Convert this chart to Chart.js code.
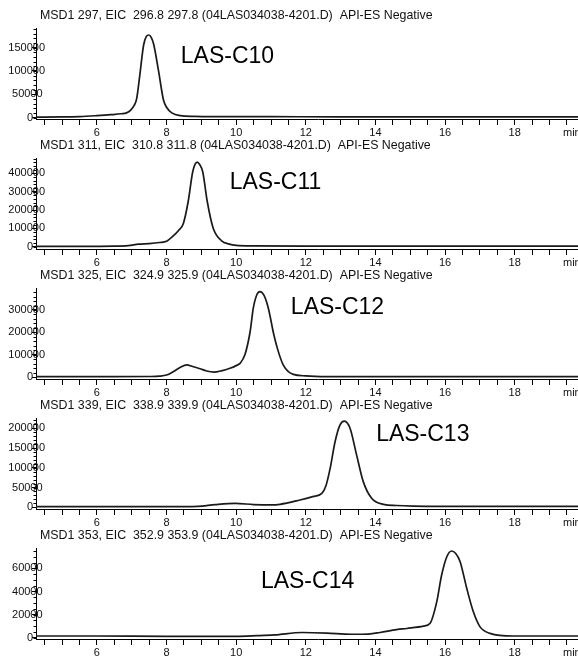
<!DOCTYPE html>
<html>
<head>
<meta charset="utf-8">
<script src="https://cdn.jsdelivr.net/npm/chart.js@4.4.0/dist/chart.umd.min.js"></script>
<style>
  html, body { margin: 0; padding: 0; background: #fff; }
  body { width: 578px; height: 659px; overflow: hidden; position: relative; }
  .panel { position: absolute; left: 0; }
</style>
</head>
<body>
<canvas id="p0" class="panel" width="600" height="145" style="top:0px"></canvas>
<canvas id="p1" class="panel" width="600" height="145" style="top:130px"></canvas>
<canvas id="p2" class="panel" width="600" height="145" style="top:260px"></canvas>
<canvas id="p3" class="panel" width="600" height="145" style="top:390px"></canvas>
<canvas id="p4" class="panel" width="600" height="145" style="top:520px"></canvas>
<script>
// Header lines of the five extracted ion chromatograms
const titles = [
    'MSD1 297, EIC  296.8 297.8 (04LAS034038-4201.D)  API-ES Negative',
    'MSD1 311, EIC  310.8 311.8 (04LAS034038-4201.D)  API-ES Negative',
    'MSD1 325, EIC  324.9 325.9 (04LAS034038-4201.D)  API-ES Negative',
    'MSD1 339, EIC  338.9 339.9 (04LAS034038-4201.D)  API-ES Negative',
    'MSD1 353, EIC  352.9 353.9 (04LAS034038-4201.D)  API-ES Negative'
];
const peakNames = ['LAS-C10', 'LAS-C11', 'LAS-C12', 'LAS-C13', 'LAS-C14'];

// Retention time (min) and abundance
const timeC10 = [4.25, 5.0, 5.5, 6.0, 6.4, 6.7, 6.85, 6.97, 7.07, 7.14, 7.23, 7.34, 7.42, 7.49, 7.56, 7.63, 7.77, 7.91, 8.0, 8.15, 8.4, 8.8, 9.5, 11, 13, 15, 17, 19, 20.45];
const abundC10 = [1000, 1200, 2000, 4000, 6000, 8000, 10000, 16000, 26000, 40000, 90000, 155000, 174000, 177000, 172000, 157000, 100000, 38000, 22000, 10000, 4000, 2500, 2000, 1800, 1500, 1500, 1500, 1500, 1500];

const timeC11 = [4.25, 5.5, 6.5, 6.9, 7.2, 7.5, 7.8, 8.0, 8.2, 8.35, 8.48, 8.62, 8.75, 8.82, 8.88, 8.95, 9.04, 9.17, 9.34, 9.58, 9.8, 10.0, 10.5, 12, 14, 16, 18, 20.45];
const abundC11 = [2000, 2000, 3000, 6000, 14000, 17000, 23000, 30000, 60000, 90000, 125000, 245000, 407000, 450000, 461000, 448000, 407000, 245000, 101000, 32000, 14000, 7000, 4000, 3000, 3000, 3000, 3000, 3000];

const timeC12 = [4.25, 5.5, 6.5, 7.5, 7.8, 8.0, 8.19, 8.4, 8.58, 8.75, 8.96, 9.15, 9.36, 9.6, 9.82, 10.0, 10.11, 10.25, 10.4, 10.49, 10.59, 10.68, 10.8, 10.92, 11.08, 11.2, 11.35, 11.5, 11.64, 12.0, 12.6, 14, 16, 18, 20.45];
const abundC12 = [3000, 3000, 3000, 3500, 5000, 10000, 25000, 45000, 55000, 48000, 38000, 28000, 23000, 30000, 40000, 52000, 62000, 100000, 203000, 307000, 367000, 382000, 365000, 310000, 191000, 120000, 55000, 25000, 13000, 6000, 3000, 3000, 3000, 3000, 3000];

const timeC13 = [4.25, 6, 8, 8.9, 9.4, 9.97, 10.5, 11.0, 11.26, 11.83, 12.2, 12.46, 12.58, 12.7, 12.84, 12.98, 13.11, 13.27, 13.46, 13.65, 13.89, 14.23, 14.6, 15.09, 16, 18, 20.45];
const abundC13 = [1500, 1500, 1500, 2500, 7000, 10000, 7000, 6000, 7600, 18500, 27000, 35000, 55000, 99000, 166000, 208000, 218000, 200000, 132000, 65000, 23000, 7500, 4500, 3000, 2500, 2500, 2500];

const timeC14 = [4.25, 6, 8, 10, 10.6, 11.1, 11.9, 12.6, 13.3, 13.8, 14.13, 14.61, 14.9, 15.38, 15.57, 15.76, 15.9, 16.05, 16.19, 16.3, 16.43, 16.62, 16.81, 17.0, 17.29, 17.96, 19, 20.45];
const abundC14 = [1500, 1500, 1200, 1200, 1800, 2500, 4500, 4000, 3000, 3200, 4500, 7000, 8000, 10000, 12500, 31000, 54000, 70000, 75000, 73000, 66000, 43000, 22600, 9600, 3800, 1500, 1500, 1500];

const times = [timeC10, timeC11, timeC12, timeC13, timeC14];
const abunds = [abundC10, abundC11, abundC12, abundC13, abundC14];

// Abundance tick labels per panel
const yTicksC10 = [0, 50000, 100000, 150000];
const yTicksC11 = [0, 100000, 200000, 300000, 400000];
const yTicksC12 = [0, 100000, 200000, 300000];
const yTicksC13 = [0, 50000, 100000, 150000, 200000];
const yTicksC14 = [0, 20000, 40000, 60000];
const yTicks = [yTicksC10, yTicksC11, yTicksC12, yTicksC13, yTicksC14];

// Axis setup per panel
const yMinorSteps = [10000, 20000, 20000, 10000, 5000];
const yRanges = [[-3200, 192000], [-12500, 483500], [-7600, 398000], [-4300, 226000], [-1100, 77600]];
// where the peak name sits, in (min, abundance)
const nameAnchors = [[9.75, 130000], [11.13, 347000], [12.91, 309000], [15.36, 183000], [12.05, 48200]];

const FONT = '"Liberation Sans", Arial, sans-serif';

// Header, y labels (last digit runs over the axis, like the original), minor ticks, peak name
const panelText = {
    id: 'panelText',
    afterDraw(chart, args, opts) {
        const ctx = chart.ctx;
        const xs = chart.scales.x;
        const ys = chart.scales.y;
        ctx.save();
        ctx.fillStyle = '#111';

        ctx.font = '12.4px ' + FONT;
        ctx.textAlign = 'left';
        ctx.textBaseline = 'middle';
        ctx.fillText(opts.title, 40, 16);

        ctx.font = '11px ' + FONT;
        ctx.textAlign = 'right';
        ys.ticks.forEach(tk => {
            const s = String(tk.value);
            ctx.fillText(s, ys.right - 3 + (s.length - 1) * 2.4, ys.getPixelForValue(tk.value));
        });

        ctx.strokeStyle = '#000';
        ctx.lineWidth = 1;
        ctx.beginPath();
        for (let v = 0; v <= ys.max; v += opts.minorStep) {
            const py = Math.round(ys.getPixelForValue(v)) + 0.5;
            ctx.moveTo(ys.right - 2.5, py);
            ctx.lineTo(ys.right, py);
        }
        ctx.stroke();

        ctx.textAlign = 'left';
        ctx.textBaseline = 'top';
        ctx.fillText('min', 563, xs.top + 8);

        ctx.font = '23px ' + FONT;
        ctx.fillStyle = '#000';
        ctx.textAlign = 'center';
        ctx.textBaseline = 'middle';
        ctx.fillText(opts.name, xs.getPixelForValue(opts.anchor[0]), ys.getPixelForValue(opts.anchor[1]));
        ctx.restore();
    }
};

function makePanel(i) {
    const points = times[i].map((t, k) => ({ x: t, y: abunds[i][k] }));
    return new Chart(document.getElementById('p' + i), {
        type: 'line',
        data: {
            datasets: [{
                data: points,
                borderColor: '#1a1a1a',
                borderWidth: 1.7,
                pointRadius: 0,
                cubicInterpolationMode: 'monotone',
                fill: false
            }]
        },
        options: {
            responsive: false,
            animation: false,
            devicePixelRatio: 1,
            layout: { padding: { top: 28, left: 0, right: 0, bottom: 0 } },
            plugins: {
                legend: { display: false },
                tooltip: { enabled: false },
                title: { display: false },
                panelText: {
                    title: titles[i],
                    name: peakNames[i],
                    anchor: nameAnchors[i],
                    minorStep: yMinorSteps[i]
                }
            },
            scales: {
                x: {
                    type: 'linear',
                    min: 4.25,
                    max: 20.45,
                    afterFit: s => { s.height = 26; },
                    border: { color: '#000', width: 1 },
                    grid: { drawOnChartArea: false, tickLength: 6, color: '#000' },
                    ticks: {
                        stepSize: 0.5,
                        maxTicksLimit: 100,
                        includeBounds: false,
                        autoSkip: false,
                        maxRotation: 0,
                        padding: 1,
                        color: '#111',
                        font: { family: FONT, size: 11 },
                        callback: v => (v % 2 === 0 ? String(v) : '')
                    }
                },
                y: {
                    min: yRanges[i][0],
                    max: yRanges[i][1],
                    afterFit: s => { s.width = 36; },
                    afterBuildTicks: s => { s.ticks = yTicks[i].map(v => ({ value: v })); },
                    border: { color: '#000', width: 1 },
                    grid: { drawOnChartArea: false, tickLength: 4, color: '#000' },
                    ticks: { display: false }
                }
            }
        },
        plugins: [panelText]
    });
}

for (let i = 0; i < 5; i++) {
    makePanel(i);
}
</script>
</body>
</html>
